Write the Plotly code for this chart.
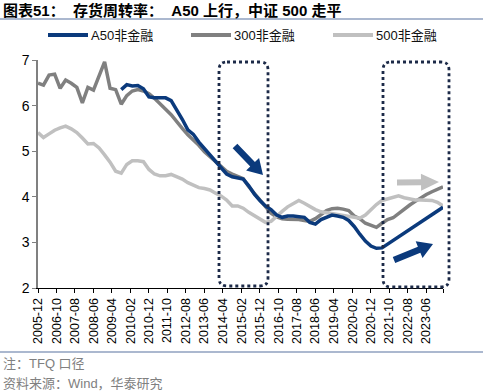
import plotly.graph_objects as go
import pandas as pd

# Quarterly observations, 2005-12 .. 2024-03
dates = pd.date_range("2005-12-01", periods=74, freq="3MS")

a50 = [None] * 15 + [
    6.35, 6.46, 6.43, 6.44, 6.37, 6.19, 6.17, 6.17, 6.17, 6.11,
    5.92, 5.70, 5.47, 5.37, 5.20, 5.06, 4.92, 4.78, 4.64, 4.50,
    4.44, 4.42, 4.39, 4.24, 4.06, 3.92, 3.80, 3.72, 3.60, 3.55,
    3.58, 3.58, 3.57, 3.55, 3.44, 3.40, 3.50, 3.55, 3.60, 3.58,
    3.55, 3.48, 3.35, 3.18, 3.03, 2.92, 2.87, 2.88, 2.96, 3.04,
    3.12, 3.20, 3.28, 3.36, 3.45, 3.53, 3.60, 3.68, 3.77,
]

hs300 = [
    6.49, 6.45, 6.67, 6.69, 6.38, 6.56, 6.49, 6.40, 6.06, 6.40,
    6.34, 6.65, 6.96, 6.38, 6.35, 6.03, 6.22, 6.32, 6.35, 6.32,
    6.26, 6.16, 6.05, 5.92, 5.80, 5.64, 5.50, 5.36, 5.25, 5.13,
    4.99, 4.88, 4.76, 4.65, 4.56, 4.50, 4.45, 4.40, 4.22, 4.07,
    3.92, 3.78, 3.64, 3.56, 3.52, 3.51, 3.51, 3.50, 3.48, 3.46,
    3.52, 3.60, 3.70, 3.74, 3.75, 3.73, 3.70, 3.58, 3.52, 3.42,
    3.37, 3.33, 3.42, 3.50, 3.54, 3.64, 3.72, 3.82, 3.90, 3.98,
    4.05, 4.11, 4.17, 4.22,
]

zz500 = [
    5.41, 5.30, 5.38, 5.46, 5.51, 5.55, 5.49, 5.41, 5.29, 5.16,
    5.17, 5.07, 4.92, 4.76, 4.56, 4.52, 4.71, 4.79, 4.79, 4.77,
    4.60, 4.50, 4.46, 4.46, 4.49, 4.45, 4.39, 4.31, 4.26, 4.20,
    4.18, 4.15, 4.08, 4.02, 3.93, 3.80, 3.80, 3.75, 3.66, 3.58,
    3.50, 3.44, 3.46, 3.58, 3.68, 3.78, 3.85, 3.92, 3.86, 3.79,
    3.72, 3.67, 3.65, 3.63, 3.61, 3.59, 3.57, 3.55, 3.53, 3.60,
    3.72, 3.83, 3.92, 3.96, 4.00, 4.02, 3.98, 3.95, 3.93, 3.93,
    3.93, 3.92, 3.88, 3.80,
]

series_names = ["A50非金融", "300非金融", "500非金融"]
tick_labels = [
    "2005-12", "2006-10", "2007-08", "2008-06", "2009-04", "2010-02",
    "2010-12", "2011-10", "2012-08", "2013-06", "2014-04", "2015-02",
    "2015-12", "2016-10", "2017-08", "2018-06", "2019-04", "2020-02",
    "2020-12", "2021-10", "2022-08", "2023-06",
]

W, H = 483, 391
L, R, T, B = 38, 40, 60, 103
PW, PH = W - L - R, H - T - B

C_BLUE = "#0b3a7c"
C_GRAY = "#808080"
C_LIGHT = "#c0c0c0"
C_BOX = "#1c2a48"
C_RULE = "#5873a0"
FONT = "Liberation Sans, Arial, Noto Sans CJK SC, sans-serif"


def px(x):
    return (x - L) / PW


def py(y):
    return (T + PH - y) / PH


fig = go.Figure()
for vals, name, col in [(hs300, series_names[1], C_GRAY),
                        (zz500, series_names[2], C_LIGHT),
                        (a50, series_names[0], C_BLUE)]:
    fig.add_trace(go.Scatter(x=dates, y=vals, mode="lines", name=name,
                             line=dict(color=col, width=3.5),
                             showlegend=False, connectgaps=False))

tickvals = [t + "-01" for t in tick_labels] + ["2024-03-01"]
ticktext = tick_labels + [""]

shapes = []
annotations = []

# rules
for y in (19, 352):
    shapes.append(dict(type="line", xref="paper", yref="paper",
                       x0=px(0), x1=px(W), y0=py(y), y1=py(y),
                       line=dict(color=C_RULE, width=1.2)))

# legend (manual)
for (x0, name, col) in [(48, series_names[0], C_BLUE),
                        (191, series_names[1], C_GRAY),
                        (333, series_names[2], C_LIGHT)]:
    shapes.append(dict(type="line", xref="paper", yref="paper",
                       x0=px(x0), x1=px(x0 + 40), y0=py(35), y1=py(35),
                       line=dict(color=col, width=4)))
    annotations.append(dict(text=name, xref="paper", yref="paper",
                            x=px(x0 + 41), y=py(35), xanchor="left",
                            yanchor="middle", showarrow=False,
                            font=dict(family=FONT, size=13, color="#111111")))


def rounded_box(x0, y0, x1, y1, r=8):
    pts = [
        f"M{px(x0 + r)},{py(y0)}", f"L{px(x1 - r)},{py(y0)}",
        f"Q{px(x1)},{py(y0)} {px(x1)},{py(y0 + r)}",
        f"L{px(x1)},{py(y1 - r)}",
        f"Q{px(x1)},{py(y1)} {px(x1 - r)},{py(y1)}",
        f"L{px(x0 + r)},{py(y1)}",
        f"Q{px(x0)},{py(y1)} {px(x0)},{py(y1 - r)}",
        f"L{px(x0)},{py(y0 + r)}",
        f"Q{px(x0)},{py(y0)} {px(x0 + r)},{py(y0)}", "Z",
    ]
    return dict(type="path", xref="paper", yref="paper", path=" ".join(pts),
                line=dict(color=C_BOX, width=2.8, dash="dot"))


shapes.append(rounded_box(219, 62, 268, 286))
shapes.append(rounded_box(383, 62, 449, 287))


def arrow(x0, y0, x1, y1, color, shaft=6.5, headw=18, headl=15):
    dx, dy = x1 - x0, y1 - y0
    ln = (dx * dx + dy * dy) ** 0.5
    ux, uy = dx / ln, dy / ln
    nx, ny = -uy, ux
    nxk, nyk = x1 - ux * headl, y1 - uy * headl
    s, h = shaft / 2, headw / 2
    P = [
        (x0 + nx * s, y0 + ny * s), (nxk + nx * s, nyk + ny * s),
        (nxk + nx * h, nyk + ny * h), (x1, y1),
        (nxk - nx * h, nyk - ny * h), (nxk - nx * s, nyk - ny * s),
        (x0 - nx * s, y0 - ny * s),
    ]
    path = "M" + " L".join(f"{px(a)},{py(b)}" for a, b in P) + " Z"
    return dict(type="path", xref="paper", yref="paper", path=path,
                fillcolor=color, line=dict(width=0))


shapes.append(arrow(235, 146, 263, 175, C_BLUE))
shapes.append(arrow(397, 182.5, 439, 182, C_LIGHT, shaft=6, headw=17, headl=18))
shapes.append(arrow(394, 260, 433, 244, C_BLUE))

# title
annotations.append(dict(
    text="<b>图表51：  存货周转率：  A50 上行，中证 500 走平</b>",
    xref="paper", yref="paper", x=px(1), y=py(10), xanchor="left",
    yanchor="middle", showarrow=False,
    font=dict(family=FONT, size=15, color="#000000")))

# notes
for txt, y in [("注：TFQ 口径", 363), ("资料来源：Wind，华泰研究", 383)]:
    annotations.append(dict(text=txt, xref="paper", yref="paper",
                            x=px(1), y=py(y), xanchor="left", yanchor="middle",
                            showarrow=False,
                            font=dict(family=FONT, size=13, color="#808080")))

fig.update_layout(
    width=W, height=H,
    margin=dict(l=L, r=R, t=T, b=B, autoexpand=False),
    paper_bgcolor="white", plot_bgcolor="white",
    showlegend=False,
    shapes=shapes, annotations=annotations,
    font=dict(family=FONT, color="#000000"),
    xaxis=dict(type="date", range=["2005-12-01", "2024-03-01"],
               tickmode="array", tickvals=tickvals, ticktext=ticktext,
               tickangle=-90, tickfont=dict(size=12.5, family=FONT),
               showgrid=False, zeroline=False, showline=True,
               linecolor="#000000", linewidth=1.2,
               ticks="outside", ticklen=4, tickcolor="#000000"),
    yaxis=dict(range=[2, 7], tickvals=[2, 3, 4, 5, 6, 7],
               tickfont=dict(size=14, family=FONT),
               showgrid=False, zeroline=False, showline=True,
               linecolor="#808080", linewidth=1.5,
               ticks="outside", ticklen=4, tickcolor="#808080"),
)

fig.write_html("out.html",
               config={"displayModeBar": False},
               post_script="document.body.style.margin='0';"
                           "document.body.style.padding='0';")
